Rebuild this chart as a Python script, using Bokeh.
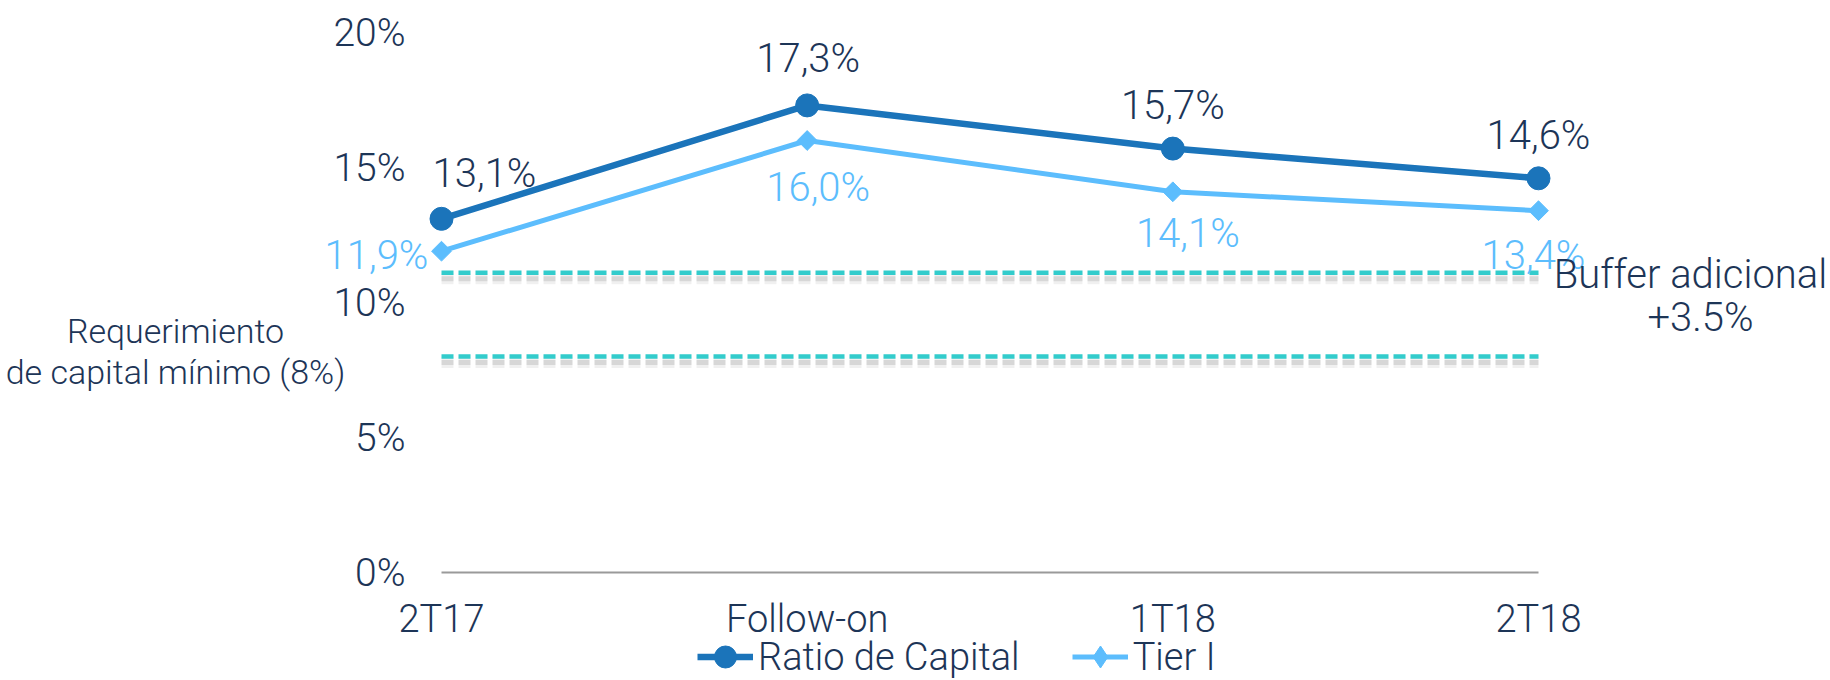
import math

from bokeh.core.properties import value
from bokeh.embed import file_html
from bokeh.models import (ColumnDataSource, FixedTicker, Label, LabelSet,
                          Legend, LegendItem, LinearAxis, Range1d)
from bokeh.plotting import figure
from bokeh.resources import INLINE

# ---- data -------------------------------------------------------------
periods = ["2T17", "Follow-on", "1T18", "2T18"]
ratio_capital = [13.1, 17.3, 15.7, 14.6]
tier_1 = [11.9, 16.0, 14.1, 13.4]
minimum_requirement = 8.0
buffer_level = 11.1
y_ticks = [0, 5, 10, 15, 20]
y_tick_labels = ["0%", "5%", "10%", "15%", "20%"]


def pct(v):
    return f"{v:.1f}".replace(".", ",") + "%"


# ---- styling ----------------------------------------------------------
FONT_NAME = "Roboto Light, Roboto, sans-serif"
FONT = value(FONT_NAME)
NAVY = "#1d3557"
DARK_BLUE = "#1b74ba"
LIGHT_BLUE = "#5cbdfd"
TEAL = "#33cccc"

W, H = 1830, 680
X0_PX, X_LAST_PX = 441, 1538      # first / last category centres
Y0_PX, PX_PER_PCT = 572, 27.0     # baseline and vertical scale
Y_AXIS_PX = 420                   # where the percentage scale sits

# the plotting frame covers the whole canvas so that notes and labels
# outside the series area are not clipped
x_idx = list(range(len(periods)))
px_per_x = (X_LAST_PX - X0_PX) / (len(periods) - 1)
x_start = -X0_PX / px_per_x
x_end = x_start + W / px_per_x
y_start = -(H - Y0_PX) / PX_PER_PCT
y_end = y_start + H / PX_PER_PCT

p = figure(width=W, height=H, output_backend="svg", toolbar_location=None,
           x_range=Range1d(x_start, x_end), y_range=Range1d(y_start, y_end),
           x_axis_type=None, y_axis_type=None, min_border=0)
p.title = None
p.outline_line_color = None
p.grid.visible = False
p.background_fill_color = "white"
p.border_fill_color = "white"

# axes drawn at fixed positions inside the frame
xaxis = LinearAxis(fixed_location=0,
                   ticker=FixedTicker(ticks=x_idx),
                   major_label_overrides={i: n for i, n in zip(x_idx, periods)},
                   major_label_standoff=24,
                   major_label_text_font_size="38px")
yaxis = LinearAxis(fixed_location=(Y_AXIS_PX - X0_PX) / px_per_x,
                   ticker=FixedTicker(ticks=y_ticks),
                   major_label_overrides={t: s for t, s in zip(y_ticks, y_tick_labels)},
                   major_label_standoff=15,
                   major_label_text_font_size="39px")
for ax in (xaxis, yaxis):
    ax.axis_line_color = None
    ax.major_tick_line_color = None
    ax.minor_tick_line_color = None
    ax.major_tick_in = 0
    ax.major_tick_out = 0
    ax.major_label_text_font = FONT_NAME
    ax.major_label_text_color = NAVY
p.add_layout(xaxis, "below")
p.add_layout(yaxis, "left")

# zero baseline spanning the categories
p.line(x=[x_idx[0], x_idx[-1]], y=[0, 0], line_color="#9a9a9a", line_width=2)

# regulatory threshold lines with a soft drop shadow
shadow_dy = 6 / PX_PER_PCT
dash = "12 5"
for level in (minimum_requirement, buffer_level):
    xs = [x_idx[0], x_idx[-1]]
    p.line(x=xs, y=[level - shadow_dy] * 2, line_color="#000000",
           line_alpha=0.06, line_width=11, line_dash=dash)
    p.line(x=xs, y=[level - shadow_dy] * 2, line_color="#000000",
           line_alpha=0.10, line_width=5, line_dash=dash)
    p.line(x=xs, y=[level] * 2, line_color=TEAL, line_width=4.5,
           line_dash=dash)

# series
r_line = p.line(x=x_idx, y=ratio_capital, line_color=DARK_BLUE, line_width=6.5)
r_pts = p.scatter(x=x_idx, y=ratio_capital, marker="circle", size=23,
                  fill_color=DARK_BLUE, line_color=DARK_BLUE)
t_line = p.line(x=x_idx, y=tier_1, line_color=LIGHT_BLUE, line_width=5)
t_pts = p.scatter(x=x_idx, y=tier_1, marker="square", angle=math.pi / 4,
                  size=14, fill_color=LIGHT_BLUE, line_color=LIGHT_BLUE)
# tiny diamonds under the Tier I points, used as the legend swatch
t_key = p.scatter(x=x_idx, y=tier_1, marker="diamond", size=1,
                  fill_color=LIGHT_BLUE, line_color=LIGHT_BLUE)

# value labels
ratio_dx = [43, 1, 0, 0]
ratio_dy = [45, 47, 43, 43]
tier_dx = [-65, 11, 15, -5]
tier_dy = [-4, -47, -42, -45]

ratio_src = ColumnDataSource(dict(x=x_idx, y=ratio_capital,
                                  text=[pct(v) for v in ratio_capital],
                                  dx=ratio_dx, dy=ratio_dy))
tier_src = ColumnDataSource(dict(x=x_idx, y=tier_1,
                                 text=[pct(v) for v in tier_1],
                                 dx=tier_dx, dy=tier_dy))
for src, col in ((ratio_src, NAVY), (tier_src, LIGHT_BLUE)):
    p.add_layout(LabelSet(x="x", y="y", text="text", source=src,
                          x_offset="dx", y_offset="dy",
                          text_align="center", text_baseline="middle",
                          text_font=FONT, text_font_size="40px",
                          text_color=col))

# side notes next to the threshold lines
note_x_left = (175 - X0_PX) / px_per_x
note_x_right = (1690 - X0_PX) / px_per_x
for txt, y, xx, size in (
        ("Requerimiento", minimum_requirement + 0.96, note_x_left, "34px"),
        ("de capital mínimo (8%)", minimum_requirement - 0.56, note_x_left, "34px"),
        ("Buffer adicional", buffer_level - 0.06, note_x_right, "40px"),
        ("+3.5%", buffer_level - 1.66, (1700 - X0_PX) / px_per_x, "40px")):
    p.add_layout(Label(x=xx, y=y, text=txt, text_align="center",
                       text_baseline="middle", text_font=FONT_NAME,
                       text_font_size=size, text_color=NAVY))

legend = Legend(items=[LegendItem(label="Ratio de Capital", renderers=[r_line, r_pts]),
                       LegendItem(label="Tier I", renderers=[t_line, t_key])],
                location=(697, -4), orientation="horizontal",
                border_line_color=None, background_fill_alpha=0,
                label_text_font=FONT_NAME, label_text_font_size="38px",
                label_text_color=NAVY, glyph_width=56, glyph_height=55,
                label_height=55, label_standoff=5, spacing=52,
                padding=0, margin=0)
p.add_layout(legend)

open("out.html", "w").write(file_html(p, INLINE))
